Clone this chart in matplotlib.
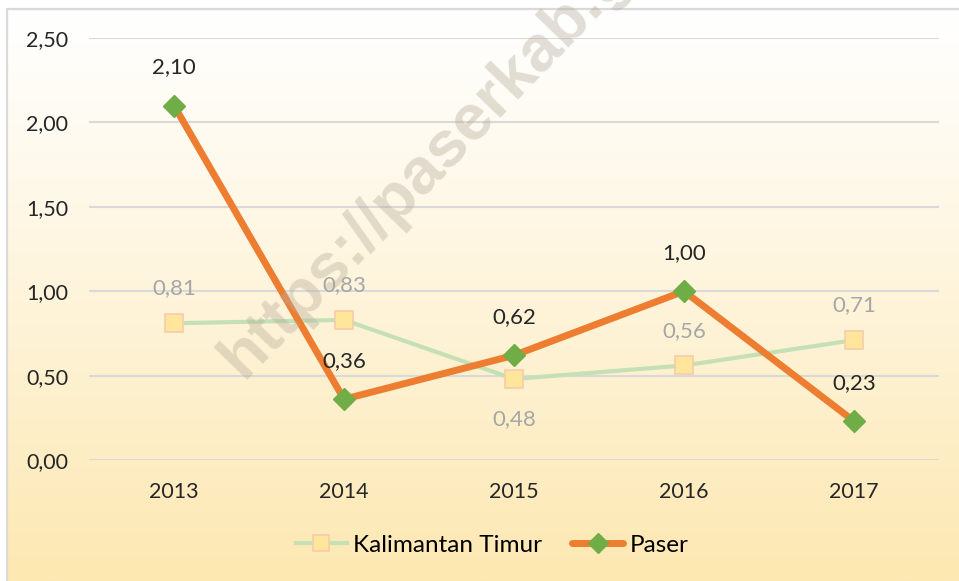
import numpy as np
import matplotlib
matplotlib.use('Agg')
import matplotlib.pyplot as plt
from matplotlib.patches import Rectangle

# Data
tahun = ['2013', '2014', '2015', '2016', '2017']
kaltim = [0.81, 0.83, 0.48, 0.56, 0.71]
paser = [2.10, 0.36, 0.62, 1.00, 0.23]
label_kaltim = ['0,81', '0,83', '0,48', '0,56', '0,71']
label_paser = ['2,10', '0,36', '0,62', '1,00', '0,23']
yticks = [0.0, 0.5, 1.0, 1.5, 2.0, 2.5]
ytick_labels = ['0,00', '0,50', '1,00', '1,50', '2,00', '2,50']

plt.rcParams['font.family'] = ['Lato', 'DejaVu Sans']

W, H = 959, 581
fig = plt.figure(figsize=(W / 100, H / 100), dpi=100)

# fondo con degradado
bg = fig.add_axes([0, 0, 1, 1], zorder=-10)
grad = np.linspace(0, 1, 256).reshape(-1, 1)
top = np.array([1.0, 1.0, 1.0])
bot = np.array([0xfd, 0xe8, 0xb2]) / 255
img = top + (bot - top) * grad[..., None] ** 1.1
img = img.reshape(256, 1, 3)
bg.imshow(img, aspect='auto', extent=[7 / W, 1.0, 0, 1 - 9 / H], origin='upper')
bg.add_patch(Rectangle((7 / W, -0.1), 1.2, 1 - 9 / H + 0.1, fill=False,
                       edgecolor='#d9d9d9', lw=1.6))
bg.set_xlim(0, 1); bg.set_ylim(0, 1)
bg.axis('off')

ax = fig.add_axes([89 / W, 1 - 460 / H, (939 - 89) / W, (460 - 38) / H])
ax.set_facecolor('none')
x = np.arange(len(tahun))

ax.plot(x, kaltim, color='#c5e0b4', lw=3, marker='s', markersize=13,
        markerfacecolor='#ffe69a', markeredgecolor='#f8cbad', markeredgewidth=1.2,
        label='Kalimantan Timur', zorder=3)
ax.plot(x, paser, color='#ed7d31', lw=5, marker='D', markersize=11.5,
        markerfacecolor='#70ad47', markeredgecolor='#70ad47',
        label='Paser', zorder=4, solid_capstyle='round')

for i, (v, t) in enumerate(zip(kaltim, label_kaltim)):
    off = -29 if i == 2 else 25
    ax.annotate(t, (x[i], v), xytext=(0, off), textcoords='offset points',
                ha='center', va='center', fontsize=16, color='#a6a6a6', zorder=5)
for i, (v, t) in enumerate(zip(paser, label_paser)):
    ax.annotate(t, (x[i], v), xytext=(0, 27.5), textcoords='offset points',
                ha='center', va='center', fontsize=16, color='#262626', zorder=5)

ax.set_xlim(-0.5, 4.5)
ax.set_ylim(0, 2.5)
ax.set_xticks(x)
ax.set_xticklabels(tahun)
ax.set_yticks(yticks)
ax.set_yticklabels(ytick_labels)
ax.tick_params(axis='both', length=0, labelsize=15.5, colors='#262626')
ax.tick_params(axis='x', pad=16)
ax.tick_params(axis='y', pad=15)
ax.grid(axis='y', color='#d9d9d9', lw=1.5, zorder=0)
ax.set_axisbelow(True)
for s in ax.spines.values():
    s.set_visible(False)

# marca de agua
fig.text(243 / W, 1 - 380 / H, 'https://paserkab.go.id', rotation=46,
         rotation_mode='anchor', ha='left', va='baseline', fontsize=47,
         fontweight='bold', family='Liberation Sans', color='#b8ae9c', alpha=0.4,
         zorder=2)

fig.legend(loc='center', bbox_to_anchor=(492 / W, 1 - 545 / H), ncol=2, frameon=False,
           fontsize=17.5, handlelength=2.1, handletextpad=0.25, columnspacing=1.25,
           markerscale=0.85)

fig.savefig('out.png', dpi=100)
